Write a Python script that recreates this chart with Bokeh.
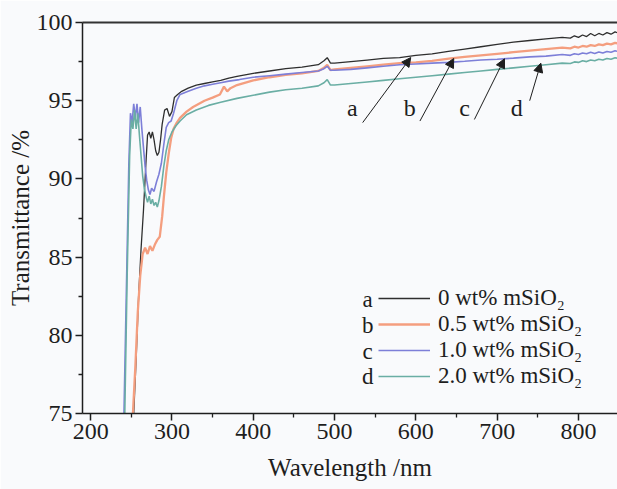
from bokeh.plotting import figure
from bokeh.models import (Range1d, LinearAxis, FixedTicker, Legend, LegendItem,
                          Arrow, NormalHead, ColumnDataSource)
from bokeh.embed import file_html
from bokeh.resources import INLINE
from bokeh.core.properties import value

# ---------------- data ----------------
wl_a = [253, 256, 259, 262, 265, 268, 270, 272, 274, 276, 278, 280, 282, 284, 286, 288, 291, 294,
        297, 300, 303, 307, 312, 320, 330, 340, 350, 360, 370, 380, 400, 420, 440, 460, 480, 487,
        491, 495, 500, 520, 540, 560, 580, 600, 620, 640, 660, 680, 700, 720, 740, 760, 780, 790,
        795, 800, 805, 810, 815, 820, 825, 830, 835, 840, 845, 850]
t_a = [75.0, 78.5, 82.5, 85.5, 88.0, 91.0, 92.8, 93.0, 92.6, 93.0, 92.5, 91.8, 91.5, 91.7, 92.5,
       93.5, 94.4, 94.5, 94.0, 94.3, 95.2, 95.4, 95.6, 95.8, 96.0, 96.1, 96.2, 96.3, 96.45, 96.55,
       96.75, 96.9, 97.05, 97.15, 97.3, 97.55, 97.75, 97.4, 97.4, 97.5, 97.6, 97.7, 97.75, 97.9,
       98.0, 98.15, 98.3, 98.45, 98.6, 98.75, 98.85, 98.95, 99.05, 99.0, 99.15, 99.05, 99.2, 99.1,
       99.3, 99.15, 99.3, 99.2, 99.35, 99.25, 99.4, 99.3]

wl_b = [252, 255, 258, 261, 264, 267, 270, 273, 276, 279, 282, 285, 288, 290, 293, 296, 299, 302,
        306, 310, 318, 326, 340, 350, 359, 364, 368, 372, 380, 400, 420, 440, 460, 480, 487, 491,
        495, 500, 520, 540, 560, 580, 600, 620, 643, 660, 680, 700, 720, 740, 760, 780, 790, 795,
        800, 805, 810, 815, 820, 825, 830, 835, 840, 845, 850]
t_b = [75.0, 78.0, 81.5, 83.8, 85.2, 85.6, 85.2, 85.7, 85.4, 85.8, 86.1, 86.3, 87.6, 88.8, 90.4,
       91.6, 92.6, 93.2, 93.6, 93.9, 94.3, 94.6, 95.0, 95.2, 95.4, 95.9, 95.6, 95.8, 96.0, 96.3,
       96.5, 96.65, 96.75, 96.9, 97.1, 97.3, 96.95, 97.0, 97.1, 97.2, 97.3, 97.4, 97.45, 97.55,
       97.7, 97.8, 97.9, 98.0, 98.1, 98.2, 98.3, 98.4, 98.35, 98.45, 98.4, 98.5, 98.45, 98.55, 98.5,
       98.6, 98.55, 98.65, 98.6, 98.7, 98.65]

wl_c = [241, 244, 247, 249, 251, 253, 255, 257, 259, 261, 263, 265, 267, 269, 271, 273, 275, 278,
        281, 284, 287, 290, 293, 296, 299, 302, 306, 310, 320, 330, 340, 350, 360, 370, 383, 400,
        420, 440, 460, 480, 487, 491, 495, 500, 520, 540, 560, 580, 600, 620, 640, 660, 680, 700,
        720, 740, 760, 780, 790, 795, 800, 805, 810, 815, 820, 825, 830, 835, 840, 845, 850]
t_c = [75.0, 83.0, 91.0, 94.2, 93.6, 94.8, 93.9, 94.8, 93.6, 94.6, 93.2, 92.0, 90.8, 89.9, 89.3,
       89.0, 89.4, 89.2, 89.8, 90.3, 91.0, 92.2, 93.3, 93.6, 93.7, 94.2, 95.0, 95.4, 95.6, 95.8,
       95.95, 96.05, 96.15, 96.25, 96.35, 96.5, 96.6, 96.7, 96.8, 96.9, 97.05, 97.2, 96.95, 96.95,
       97.0, 97.1, 97.2, 97.3, 97.35, 97.4, 97.45, 97.52, 97.6, 97.65, 97.72, 97.8, 97.85, 97.95,
       97.9, 98.0, 97.95, 98.05, 98.0, 98.1, 98.02, 98.12, 98.05, 98.15, 98.1, 98.2, 98.12]

wl_d = [242, 245, 248, 250, 252, 254, 256, 258, 260, 262, 264, 266, 268, 270, 272, 274, 276, 278,
        280, 282, 284, 287, 290, 293, 296, 300, 305, 310, 318, 330, 345, 360, 380, 400, 420, 440,
        460, 480, 487, 491, 495, 500, 520, 540, 560, 580, 600, 620, 640, 660, 680, 700, 720, 740,
        760, 780, 790, 795, 800, 805, 810, 815, 820, 825, 830, 835, 840, 845, 850]
t_d = [75.0, 84.0, 91.5, 93.8, 93.2, 94.4, 93.2, 94.2, 92.8, 91.5, 90.2, 89.4, 88.9, 88.5, 88.9,
       88.4, 88.7, 88.3, 88.5, 88.2, 88.6, 89.5, 90.8, 91.8, 92.5, 93.0, 93.4, 93.7, 94.1, 94.4,
       94.7, 94.9, 95.15, 95.35, 95.55, 95.7, 95.8, 95.95, 96.15, 96.35, 96.0, 96.0, 96.1, 96.2,
       96.3, 96.4, 96.5, 96.6, 96.7, 96.8, 96.9, 97.0, 97.1, 97.2, 97.3, 97.4, 97.38, 97.48, 97.45,
       97.55, 97.5, 97.6, 97.55, 97.65, 97.6, 97.7, 97.65, 97.75, 97.7]

series_letters = ["a", "b", "c", "d"]
series_labels = ["0 wt% mSiO\u2082", "0.5 wt% mSiO\u2082", "1.0 wt% mSiO\u2082", "2.0 wt% mSiO\u2082"]

x_ticks = [200, 300, 400, 500, 600, 700, 800]
x_minor = [250, 350, 450, 550, 650, 750]
y_ticks = [75, 80, 85, 90, 95, 100]
y_minor = [77.5, 82.5, 87.5, 92.5, 97.5]

# annotation arrows (tail -> tip) and their letters
arrow_x0 = [534.6, 605.0, 672.0, 740.0]
arrow_y0 = [93.6, 93.7, 93.8, 95.0]
arrow_x1 = [593.7, 646.6, 709.0, 753.7]
arrow_y1 = [97.76, 97.7, 97.68, 97.4]
letter_x = [522.0, 592.5, 660.0, 724.0]
letter_y = [94.55, 94.55, 94.55, 94.55]

# legend letter positions (data units)
legend_letter_x = [540.8] * 4
legend_letter_y = [82.29, 80.63, 78.96, 77.37]

# ---------------- style ----------------
BG = "#f9fafc"
FONT = "Liberation Serif"
INK = "#1e1e1e"
colors = ["#2e2e2e", "#f49e7f", "#7d7fd8", "#6aaea4"]
widths = [1.3, 2.3, 1.6, 1.6]

p = figure(width=617, height=489, output_backend="svg", toolbar_location=None,
           x_range=Range1d(190, 848), y_range=Range1d(75, 100),
           min_border_left=82, min_border_top=22, min_border_right=0, min_border_bottom=76,
           background_fill_color=BG, border_fill_color=BG, outline_line_color=None)
p.grid.visible = False

data = [(wl_a, t_a), (wl_b, t_b), (wl_c, t_c), (wl_d, t_d)]
renderers = []
for (wl, t), col, w in zip(data, colors, widths):
    r = p.line(x=wl, y=t, line_color=col, line_width=w)
    renderers.append(r)

# axes
for ax in (p.xaxis[0], p.yaxis[0]):
    ax.axis_line_color = INK
    ax.axis_line_width = 1.5
    ax.major_tick_line_color = INK
    ax.major_tick_line_width = 1.5
    ax.minor_tick_line_color = INK
    ax.minor_tick_line_width = 1.3
    ax.major_tick_in = 0
    ax.major_tick_out = 7
    ax.minor_tick_in = 0
    ax.minor_tick_out = 4
    ax.major_label_text_font = FONT
    ax.major_label_text_font_size = "24px"
    ax.major_label_text_color = INK
    ax.axis_label_text_font = FONT
    ax.axis_label_text_font_size = "25px"
    ax.axis_label_text_font_style = "normal"
    ax.axis_label_text_color = INK
    ax.major_label_standoff = 3

p.xaxis.ticker = FixedTicker(ticks=x_ticks, minor_ticks=x_minor)
p.yaxis.ticker = FixedTicker(ticks=y_ticks, minor_ticks=y_minor)
p.xaxis.axis_label = "Wavelength /nm"
p.yaxis.axis_label = "Transmittance /%"
p.xaxis.axis_label_standoff = 12
p.yaxis.axis_label_standoff = 0

# plain top frame line (no ticks, no labels)
top = LinearAxis(ticker=FixedTicker(ticks=[], minor_ticks=[]),
                 axis_line_color="#333333", axis_line_width=2,
                 major_tick_line_color=None, minor_tick_line_color=None,
                 major_tick_in=0, major_tick_out=0, minor_tick_in=0, minor_tick_out=0,
                 major_label_text_font_size="0px", major_label_standoff=0)
p.add_layout(top, "above")

# legend
items = [LegendItem(label=lab, renderers=[r]) for lab, r in zip(series_labels, renderers)]
legend = Legend(items=items, location=(296, 24), padding=0, margin=0, spacing=0,
                glyph_width=52, glyph_height=20, label_height=20, label_standoff=8,
                border_line_color=None, background_fill_alpha=0,
                label_text_font=FONT, label_text_font_size="23px", label_text_color=INK)
p.add_layout(legend)

leg_src = ColumnDataSource(dict(x=legend_letter_x, y=legend_letter_y, t=series_letters))
p.text(x="x", y="y", text="t", source=leg_src, text_font=value(FONT),
       text_font_size=value("23px"), text_align="center", text_baseline="middle",
       text_color=INK)

# arrows with letters
for x0, y0, x1, y1 in zip(arrow_x0, arrow_y0, arrow_x1, arrow_y1):
    p.add_layout(Arrow(end=NormalHead(size=9, fill_color=INK, line_color=INK),
                       x_start=x0, y_start=y0, x_end=x1, y_end=y1,
                       line_color=INK, line_width=1))
lab_src = ColumnDataSource(dict(x=letter_x, y=letter_y, t=series_letters))
p.text(x="x", y="y", text="t", source=lab_src, text_font=value(FONT),
       text_font_size=value("24px"), text_align="center", text_baseline="middle",
       text_color=INK)

open("out.html", "w").write(file_html(p, INLINE))
